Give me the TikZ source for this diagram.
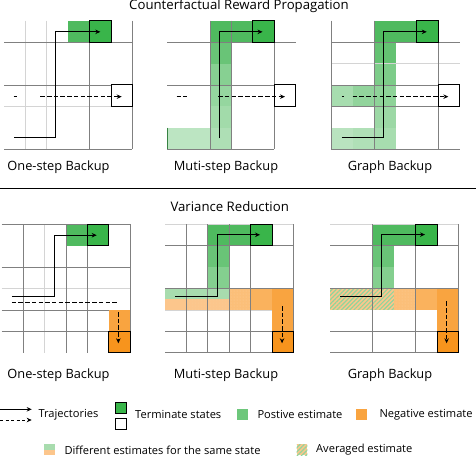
\documentclass[tikz,border=0pt]{standalone}
\usepackage{fontspec}
\setmainfont{Open Sans}
\usetikzlibrary{patterns,patterns.meta,arrows.meta}
\definecolor{leaf green}{HTML}{39B54A}
\definecolor{moss green}{HTML}{4FBA5F}
\definecolor{sage green}{HTML}{6DC77B}
\definecolor{mint green}{HTML}{A8DCAE}
\definecolor{ember orange}{HTML}{F7941D}
\definecolor{amber orange}{HTML}{F9A440}
\definecolor{peach orange}{HTML}{FCC68C}
\definecolor{line gray}{HTML}{808080}
\definecolor{faint gray}{HTML}{D4D4D4}
\tikzset{
	panel/.style 2 args={shift={(#1,#2)}, x=21.4pt, y=-21.4pt},
	major line/.style={draw=line gray, line width=0.8pt},
	minor line/.style={draw=faint gray, line width=0.8pt},
	state box/.style={draw=black, line width=1pt},
	track/.style={line width=0.9pt, -{Stealth[length=5pt,width=4.5pt]}},
	plain track/.style={line width=0.9pt},
	dash track/.style={track, dash pattern=on 4.5pt off 2.2pt},
	plain dash/.style={plain track, dash pattern=on 4.5pt off 2.2pt},
	title/.style={font=\fontsize{13.2}{15}\selectfont, inner sep=0pt},
	caption/.style={font=\fontsize{12.8}{15}\selectfont, inner sep=0pt},
	key/.style={font=\fontsize{11.1}{13}\selectfont, anchor=west, inner sep=0pt},
	stipple/.style={pattern=dots, pattern color=ember orange!45},
	stripes/.style={pattern={Lines[angle=45,distance=3pt,line width=1.2pt]}, pattern color=sage green!75},
}

\begin{document}
\begin{tikzpicture}[x=1pt, y=-1pt]
		\useasboundingbox (0,0) rectangle (476,456);
		% headings
		\node[title] (top title) at (239,6.5) {Counterfactual Reward Propagation};
		\node[title] (low title) at (229.7,206.7) {Variance Reduction};
		\draw[line width=1pt] (0,188.3) -- (476,188.3);
		% one-step, top
		\begin{scope}[panel={4}{20.7}]
			\fill[moss green] (3,0) rectangle (4,1);
			\fill[leaf green] (4,0) rectangle (5,1);
			\draw[minor line] (1,0) -- (1,6) (2,0) -- (2,6) (0,4) -- (5,4);
			\draw[major line] (4,0) -- (4,6) (6,0) -- (6,6)
				(0,1) -- (6,1) (0,3) -- (6,3) (0,6) -- (6,6);
			\draw[state box, fill=white] (5,3) rectangle (6,4);
			\draw[state box] (4,0) rectangle (5,1);
			\draw[track] (0.47,5.45) -- (2.4,5.45) -- (2.4,0.52) -- (4.5,0.52);
			\draw[plain dash] (0.45,3.55) -- (0.62,3.55);
			\draw[dash track] (1.7,3.55) -- (5.5,3.55);
		\end{scope}
		% multi-step, top
		\begin{scope}[panel={167.3}{20.7}]
			\fill[moss green] (2,0) rectangle (4,1);
			\foreach \r/\p in {1/85,2/68,3/60,4/53,5/46}
				\fill[moss green!\p] (2,\r) rectangle (3,\r+1);
			\fill[moss green!38] (0,5) rectangle (2,6);
			\fill[leaf green] (4,0) rectangle (5,1);
			\draw[major line] (2,0) -- (2,6) (3,0) -- (3,6) (5,0) -- (5,6)
				(0,1) -- (6,1) (0,3) -- (5,3) (0,6) -- (5,6);
			\draw[moss green!70!black, line width=0.6pt] (0,5) -- (0,6);
			\draw[state box, fill=white] (5,3) rectangle (6,4);
			\draw[state box] (4,0) rectangle (5,1);
			\draw[track] (2.43,5.5) -- (2.43,0.52) -- (4.45,0.52);
			\draw[plain dash] (0.44,3.55) -- (0.93,3.55);
			\draw[dash track] (2.38,3.55) -- (5.5,3.55);
		\end{scope}
		% graph, top
		\begin{scope}[panel={331.3}{20.7}]
			\fill[moss green] (2,0) rectangle (4,1);
			\foreach \r/\p in {1/88,2/74,3/64,4/56,5/50}
				\fill[moss green!\p] (2,\r) rectangle (3,\r+1);
			\fill[moss green!50] (0,3) rectangle (1,4);
			\fill[moss green!62] (1,3) rectangle (2,4);
			\fill[moss green!40] (0,5) rectangle (1,6);
			\fill[moss green!45] (1,5) rectangle (2,6);
			\fill[leaf green] (4,0) rectangle (5,1);
			\draw[minor line] (0,2) -- (6,2);
			\draw[major line] (0,0) -- (0,6) (2,0) -- (2,6) (5,0) -- (5,6)
				(0,1) -- (6,1) (0,3) -- (5,3) (0,4) -- (5,4) (0,6) -- (6,6);
			\draw[state box, fill=white] (5,3) rectangle (6,4);
			\draw[state box] (4,0) rectangle (5,1);
			\draw[track] (0.49,5.47) -- (2.43,5.47) -- (2.43,0.52) -- (4.46,0.52);
			\draw[plain dash] (0.49,3.55) -- (0.6,3.55);
			\draw[dash track] (1.0,3.55) -- (5.47,3.55);
		\end{scope}
		% one-step, bottom
		\begin{scope}[panel={1.7}{224.3}]
			\fill[moss green] (3,0) rectangle (4,1);
			\fill[leaf green] (4,0) rectangle (5,1);
			\fill[amber orange] (5,4) rectangle (6,5);
			\fill[ember orange] (5,5) rectangle (6,6);
			\draw[minor line] (2,0) -- (2,6) (0,3) -- (6,3);
			\draw[major line] (1,0) -- (1,6) (3,0) -- (3,6) (4,0) -- (4,6) (6,0) -- (6,5)
				(0,0) -- (6,0) (0,2) -- (6,2) (0,4) -- (5,4) (0,5) -- (6,5);
			\draw[state box] (4,0) rectangle (5,1) (5,5) rectangle (6,6);
			\draw[track] (0.47,3.38) -- (2.46,3.38) -- (2.46,0.51) -- (4.44,0.51);
			\draw[plain dash] (0.47,3.64) -- (5.45,3.64);
			\draw[dash track] (5.45,4.1) -- (5.45,5.56);
		\end{scope}
		% multi-step, bottom
		\begin{scope}[panel={165}{224.3}]
			\fill[moss green] (2,0) rectangle (4,1);
			\fill[moss green!85] (2,1) rectangle (3,2);
			\fill[moss green!70] (2,2) rectangle (3,3);
			\fill[leaf green] (4,0) rectangle (5,1);
			\fill[mint green] (0,3) rectangle (3,3.5);
			\fill[peach orange] (0,3.5) rectangle (3,4);
			\fill[stipple] (1,3.5) rectangle (3,4);
			\fill[amber orange!70] (3,3) rectangle (4,4);
			\fill[stipple] (3,3) rectangle (4,4);
			\fill[amber orange!85] (4,3) rectangle (5,4);
			\fill[amber orange] (5,3) rectangle (6,5);
			\fill[ember orange] (5,5) rectangle (6,6);
			\draw[minor line] (0,0) -- (6,0) (0,4) -- (5,4);
			\draw[major line] (1,0) -- (1,6) (2,0) -- (2,6) (3,0) -- (3,6) (4,0) -- (4,6) (6,0) -- (6,6)
				(0,1) -- (6,1) (0,3) -- (6,3) (0,5) -- (6,5) (0,6) -- (6,6);
			\draw[state box] (4,0) rectangle (5,1) (5,5) rectangle (6,6);
			\draw[track] (0.47,3.38) -- (2.46,3.38) -- (2.46,0.49) -- (4.44,0.49);
			\draw[dash track] (5.47,3.82) -- (5.47,5.56);
		\end{scope}
		% graph, bottom
		\begin{scope}[panel={330}{224.3}]
			\fill[moss green] (2,0) rectangle (4,1);
			\fill[moss green!85] (2,1) rectangle (3,2);
			\fill[moss green!70] (2,2) rectangle (3,3);
			\fill[leaf green] (4,0) rectangle (5,1);
			\fill[peach orange] (0,3) rectangle (3,4);
			\fill[stripes] (0,3) rectangle (3,4);
			\fill[amber orange!70] (3,3) rectangle (4,4);
			\fill[stipple] (3,3) rectangle (4,4);
			\fill[amber orange!85] (4,3) rectangle (5,4);
			\fill[amber orange] (5,3) rectangle (6,5);
			\fill[ember orange] (5,5) rectangle (6,6);
			\draw[minor line] (0,0) -- (6,0);
			\draw[major line] (2,0) -- (2,6) (4,0) -- (4,6) (6,0) -- (6,6)
				(0,1) -- (6,1) (0,3) -- (6,3) (0,5) -- (6,5) (0,6) -- (6,6);
			\draw[state box] (4,0) rectangle (5,1) (5,5) rectangle (6,6);
			\draw[track] (0.47,3.38) -- (2.41,3.38) -- (2.41,0.48) -- (4.44,0.48);
			\draw[dash track] (5.45,3.6) -- (5.45,5.56);
		\end{scope}
		% captions
		\node[caption] (one top) at (58.5,167.5) {One-step Backup};
		\node[caption] (multi top) at (226,167.5) {Muti-step Backup};
		\node[caption] (graph top) at (390,167.5) {Graph Backup};
		\node[caption] (one low) at (58.5,375) {One-step Backup};
		\node[caption] (multi low) at (226,375) {Muti-step Backup};
		\node[caption] (graph low) at (390,375) {Graph Backup};
		% legend
		\draw[track] (0,409.3) -- (31.7,409.3);
		\draw[dash track, dash pattern=on 3pt off 2.5pt] (0,420) -- (31.7,420);
		\node[key] (traj) at (38.3,414.3) {Trajectories};
		\draw[state box, fill=leaf green] (115,402.3) rectangle (126.7,413.3);
		\draw[state box, fill=white] (115,418.3) rectangle (126.7,429.3);
		\node[key] (term) at (135,414.3) {Terminate states};
		\fill[sage green] (237.3,409) rectangle (248.3,420);
		\node[key] (pos) at (257.3,414.3) {Postive estimate};
		\fill[amber orange] (355.7,409) rectangle (366.7,420);
		\node[key] (neg) at (379.3,414.3) {Negative estimate};
		\fill[mint green] (44,444) rectangle (55,449.5);
		\fill[peach orange] (44,449.5) rectangle (55,455);
		\node[key] (diff) at (64.3,450) {Different estimates for the same state};
		\fill[peach orange] (296.7,444) rectangle (307.3,455);
		\fill[stripes] (296.7,444) rectangle (307.3,455);
		\node[key] (avg) at (316,450) {Averaged estimate};
	\end{tikzpicture}
\end{document}
